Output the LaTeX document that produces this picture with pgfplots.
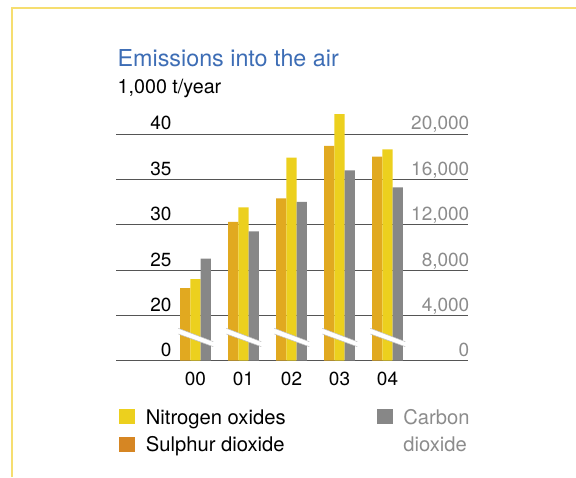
\documentclass[border=0pt]{standalone}
\usepackage{pgfplots}
\pgfplotsset{compat=1.18}
\usepackage{fontspec}
\setmainfont{TeX Gyre Heros}
\definecolor{frameyellow}{HTML}{F6DE70}
\definecolor{titleblue}{HTML}{3D6DB5}
\definecolor{noxyellow}{HTML}{ECD01E}
\definecolor{so2bar}{HTML}{E1A920}
\definecolor{so2leg}{HTML}{D68623}
\definecolor{co2gray}{HTML}{878787}
\definecolor{lblgray}{HTML}{8C8C8C}
\definecolor{gridgray}{HTML}{555555}
\newcommand{\lbl}{\fontsize{19}{23}\selectfont}
\newcommand{\leg}{\fontsize{20.2}{24}\selectfont}
\begin{document}
\begin{tikzpicture}[x=1pt,y=1pt]
\path[use as bounding box] (0,0) rectangle (576,-477);
\draw[frameyellow, line width=2pt] (12,-477) -- (12,-7.7) -- (576,-7.7);
\node[anchor=base west, inner sep=0, text=titleblue, font=\fontsize{23.3}{27}\selectfont] at (117.5,-66.7) {Emissions into the air};
\node[anchor=base west, inner sep=0, font=\fontsize{19.7}{23}\selectfont] at (117.5,-93.3) {1,000 t/year};

% left scale: nitrogen oxides, sulphur dioxide (scale broken between 0 and 20)
\begin{axis}[
  at={(116pt,-360.7pt)}, anchor=south west,
  width=352pt, height=249.4pt, scale only axis,
  xmin=-1.656, xmax=5.677,
  ymin=15, ymax=42.5,
  axis line style={draw=none},
  major tick length=0pt,
  ytick={15,20,25,30,35,40},
  yticklabels={0,20,25,30,35,40},
  ymajorgrids, grid style={gridgray, line width=0.9pt},
  xtick={0,...,4}, xticklabels={00,01,02,03,04},
  tick label style={font=\lbl, inner sep=0pt},
  yticklabel style={anchor=base east, xshift=55.7pt, yshift=4pt},
  xticklabel style={anchor=base, yshift=-24.3pt},
  ybar, bar width=10.3pt,
]
\addplot[fill=so2bar, draw=none, bar shift=-10.3pt]
  coordinates {(0,23.0) (1,30.3) (2,32.9) (3,38.7) (4,37.5)};
\addplot[fill=noxyellow, draw=none, bar shift=0pt]
  coordinates {(0,24.0) (1,31.9) (2,37.4) (3,42.2) (4,38.3)};
\end{axis}

% right scale: carbon dioxide
\begin{axis}[
  at={(116pt,-360.7pt)}, anchor=south west,
  width=352pt, height=249.4pt, scale only axis,
  xmin=-1.656, xmax=5.677,
  ymin=0, ymax=22000,
  axis line style={draw=none},
  major tick length=0pt,
  xtick=\empty,
  ytick={0,4000,...,20000},
  scaled y ticks=false,
  yticklabel pos=right,
  /pgf/number format/.cd, 1000 sep={,}, assume math mode=true, /pgfplots/.cd,
  tick label style={font=\lbl, inner sep=0pt},
  yticklabel style={anchor=base east, xshift=1.5pt, yshift=4pt, text=lblgray},
  ybar, bar width=10.3pt,
  legend columns=2,
  legend image code/.code={\fill[#1, draw=none] (0pt,-5pt) rectangle (16pt,10pt);},
  legend style={draw=none, fill=none, font=\leg, inner sep=0pt,
    at={(0.0085,-0.1937)}, anchor=north west,
    nodes={inner sep=0pt, text height=14pt, text depth=4pt},
    row sep=8.7pt,
    /tikz/every odd column/.append style={column sep=10.7pt},
    /tikz/every even column/.append style={column sep=91pt}},
  legend cell align=left,
]
\addlegendimage{fill=noxyellow}
\addlegendentry{Nitrogen oxides}
\addlegendimage{fill=co2gray}
\addlegendentry{\textcolor{lblgray}{Carbon}}
\addlegendimage{fill=so2leg}
\addlegendentry{Sulphur dioxide}
\addlegendimage{empty legend}
\addlegendentry{\textcolor{lblgray}{dioxide}}
\addplot[fill=co2gray, draw=none, bar shift=10.3pt, forget plot]
  coordinates {(0,9000) (1,11400) (2,14000) (3,16800) (4,15300)};
% break marks across each group
\pgfplotsinvokeforeach{0,...,4}{
  \fill[white] ([xshift=-17.2pt]axis cs:#1,2860) -- ([xshift=17.8pt]axis cs:#1,1680)
    -- ([xshift=17.8pt]axis cs:#1,1240) -- ([xshift=-17.2pt]axis cs:#1,2360) -- cycle;
  \draw[black!25, line width=0.5pt] ([xshift=-17.2pt]axis cs:#1,2860) -- ([xshift=17.8pt]axis cs:#1,1680);
  \draw[black!25, line width=0.5pt] ([xshift=-17.2pt]axis cs:#1,2360) -- ([xshift=17.8pt]axis cs:#1,1240);
}
\end{axis}
\end{tikzpicture}
\end{document}
